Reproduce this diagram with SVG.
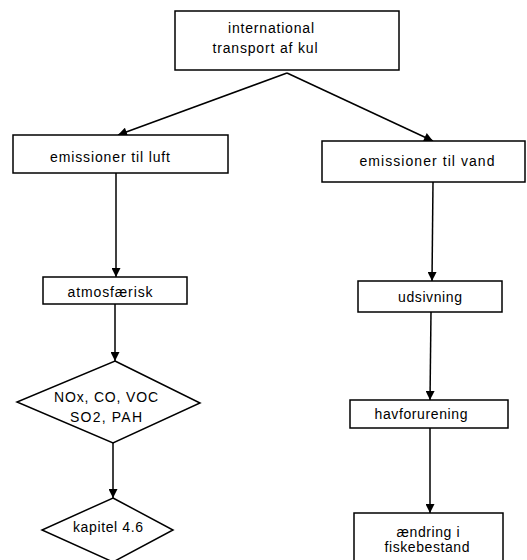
<svg xmlns="http://www.w3.org/2000/svg" width="527" height="560" viewBox="0 0 527 560">
  <style>
    .box { fill: #ffffff; stroke: #000000; stroke-width: 1.5; }
    .lbl { font-family: "Liberation Sans", Arial, sans-serif; font-size: 14px; fill: #000000; text-anchor: middle; }
    .edge { stroke: #000000; stroke-width: 1.5; fill: none; marker-end: url(#arrow); }
  </style>
  <defs>
    <marker id="arrow" viewBox="0 0 10 10" refX="10" refY="5" markerWidth="6.5" markerHeight="6" orient="auto" markerUnits="strokeWidth">
      <path d="M0,0 L10,5 L0,10 z" fill="#000000"/>
    </marker>
  </defs>
  <rect width="527" height="560" fill="#ffffff"/>

  <g id="connectors">
    <path class="edge" d="M287,73 L118,135"/>
    <path class="edge" d="M287,73 L433,141"/>
    <path class="edge" d="M116,173 L116,277"/>
    <path class="edge" d="M115,304 L115,361"/>
    <path class="edge" d="M113,443 L113,498"/>
    <path class="edge" d="M433,182 L432,281"/>
    <path class="edge" d="M431,312 L430,400"/>
    <path class="edge" d="M430,428 L430,513"/>
  </g>

  <g id="transport">
    <rect class="box" x="175" y="11" width="224" height="59"/>
    <text class="lbl" x="271" y="33" textLength="86" lengthAdjust="spacing">international</text>
    <text class="lbl" x="265" y="53" textLength="105" lengthAdjust="spacing">transport af kul</text>
  </g>

  <g id="luft">
    <rect class="box" x="13" y="135" width="215" height="38"/>
    <text class="lbl" x="110" y="162" textLength="120" lengthAdjust="spacing">emissioner til luft</text>
  </g>

  <g id="vand">
    <rect class="box" x="322" y="141" width="203" height="41"/>
    <text class="lbl" x="427" y="166" textLength="135" lengthAdjust="spacing">emissioner til vand</text>
  </g>

  <g id="atmosfaerisk">
    <rect class="box" x="43" y="277" width="144" height="27"/>
    <text class="lbl" x="110" y="297" textLength="85" lengthAdjust="spacing">atmosfærisk</text>
  </g>

  <g id="stoffer">
    <polygon class="box" points="115,361 200,403 113,443 17,402"/>
    <text class="lbl" x="106" y="402" textLength="104" lengthAdjust="spacing">NOx, CO, VOC</text>
    <text class="lbl" x="106" y="422" textLength="72" lengthAdjust="spacing">SO2, PAH</text>
  </g>

  <g id="kapitel">
    <polygon class="box" points="113,498 173,530 113,562 42,530"/>
    <text class="lbl" x="108" y="532" textLength="70" lengthAdjust="spacing">kapitel 4.6</text>
  </g>

  <g id="udsivning">
    <rect class="box" x="358" y="281" width="144" height="31"/>
    <text class="lbl" x="430" y="302" textLength="64" lengthAdjust="spacing">udsivning</text>
  </g>

  <g id="havforurening">
    <rect class="box" x="350" y="400" width="158" height="28"/>
    <text class="lbl" x="421" y="419" textLength="93" lengthAdjust="spacing">havforurening</text>
  </g>

  <g id="fiskebestand">
    <rect class="box" x="354" y="513" width="149" height="60"/>
    <text class="lbl" x="428" y="537" textLength="63" lengthAdjust="spacing">ændring i</text>
    <text class="lbl" x="427" y="552" textLength="85" lengthAdjust="spacing">fiskebestand</text>
  </g>
</svg>
